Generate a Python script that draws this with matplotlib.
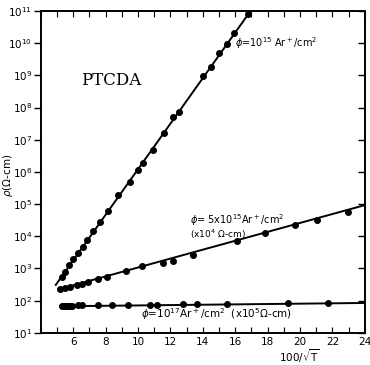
import numpy as np
import matplotlib
matplotlib.use('Agg')
import matplotlib.pyplot as plt
from matplotlib.ticker import LogLocator, FixedLocator, NullFormatter

# phi = 1e15 Ar+/cm2
x_a = [5.30, 5.51, 5.77, 6.02, 6.33, 6.60, 6.88, 7.25, 7.67, 8.18, 8.80, 9.48,
       10.03, 10.30, 10.96, 11.62, 12.19, 12.56, 14.0, 14.5, 15.03, 15.52, 15.9, 16.82]
rho_a = [5.4e2, 8.0e2, 1.3e3, 2.0e3, 3.1e3, 4.8e3, 7.7e3, 1.5e4, 2.7e4, 6.3e4, 1.95e5, 4.7e5,
         1.16e6, 1.95e6, 4.8e6, 1.65e7, 5.0e7, 7.4e7, 9.5e8, 1.87e9, 4.9e9, 9.3e9, 2.05e10, 8.1e10]
fit_x_a = [4.93, 16.95]
fit_rho_a = [3.1e2, 1.0e11]

# phi = 5e15 Ar+/cm2  (x1e4 ohm-cm)
x_b = [5.20, 5.51, 5.81, 6.23, 6.54, 6.94, 7.56, 8.08, 9.27, 10.24, 11.56, 12.17,
       13.41, 16.1, 17.85, 19.7, 21.04, 22.98]
rho_b = [232, 251, 269, 309, 331, 383, 477, 550, 850, 1230, 1515, 1770,
         2570, 6900, 12600, 22400, 33000, 58000]
fit_x_b = [5.1, 24.0]
fit_rho_b = [225, 9.3e4]

# phi = 1e17 Ar+/cm2  (x1e5 ohm-cm)
x_c = [5.30, 5.38, 5.50, 5.63, 5.71, 5.81, 5.92, 6.31, 6.56, 7.54, 8.41, 9.40,
       10.75, 11.19, 12.79, 13.65, 15.5, 19.27, 21.74]
rho_c = [68, 68, 69, 69, 69, 70, 70, 71, 71, 73, 74, 75,
         76, 76, 78, 79, 80, 82, 83]
fit_x_c = [5.2, 24.0]
fit_rho_c = [67, 85]

fig = plt.figure(figsize=(3.7, 3.65), dpi=100)
ax = fig.add_axes([0.11, 0.088, 0.876, 0.882])

for fx, fr, xs, rs in [(fit_x_a, fit_rho_a, x_a, rho_a),
                       (fit_x_b, fit_rho_b, x_b, rho_b),
                       (fit_x_c, fit_rho_c, x_c, rho_c)]:
    ax.plot(fx, fr, color='black', lw=1.4)
    ax.plot(xs, rs, 'o', color='black', ms=4)

ax.set_yscale('log')
ax.set_xlim(4, 24)
ax.set_ylim(10, 1e11)

ax.yaxis.set_major_locator(LogLocator(base=10, numticks=20))
ax.yaxis.set_minor_locator(FixedLocator([]))
ax.xaxis.set_major_locator(FixedLocator([6, 8, 10, 12, 14, 16, 18, 20, 22, 24]))
ax.xaxis.set_minor_locator(FixedLocator(np.arange(4, 24, 1)))
ax.xaxis.set_minor_formatter(NullFormatter())

ax.tick_params(axis='y', which='major', left=True, right=False, direction='out',
               length=5, width=1, labelsize=7.5, pad=1)
ax.tick_params(axis='x', which='both', bottom=True, top=True, direction='in',
               length=4, width=0.8, labelsize=7.5, pad=3)

# right-side inward ticks
ax_r = ax.twinx()
ax_r.set_yscale('log')
ax_r.set_ylim(ax.get_ylim())
ax_r.yaxis.set_major_locator(LogLocator(base=10, numticks=20))
ax_r.yaxis.set_minor_locator(FixedLocator([]))
ax_r.tick_params(axis='y', direction='in', length=5, width=1, labelright=False)

for a in (ax, ax_r):
    for s in a.spines.values():
        s.set_linewidth(1.2)

ax.set_ylabel(r'$\rho(\Omega$-cm)', fontsize=7.5)
ax.yaxis.set_label_coords(-0.08, 0.49)

fig.text(0.81, 0.025, r'100/$\sqrt{\rm T}$', fontsize=7.5, ha='center', va='center')

ax.text(0.217, 0.783, 'PTCDA', transform=ax.transAxes, fontsize=12,
        family='DejaVu Serif', ha='center', va='center')
ax.text(16.0, 10**10.0, r'$\phi$=10$^{15}$ Ar$^+$/cm$^2$', fontsize=7, va='center')
ax.text(13.2, 10**4.5, r'$\phi$= 5x10$^{15}$Ar$^+$/cm$^2$', fontsize=7, va='center')
ax.text(13.2, 10**4.05, r'(x10$^4$ $\Omega$-cm)', fontsize=6.5, va='center')
ax.text(10.2, 10**1.58, r'$\phi$=10$^{17}$Ar$^+$/cm$^2$  (x10$^5$$\Omega$-cm)',
        fontsize=7.5, va='center')

fig.savefig('out.png', dpi=100)
